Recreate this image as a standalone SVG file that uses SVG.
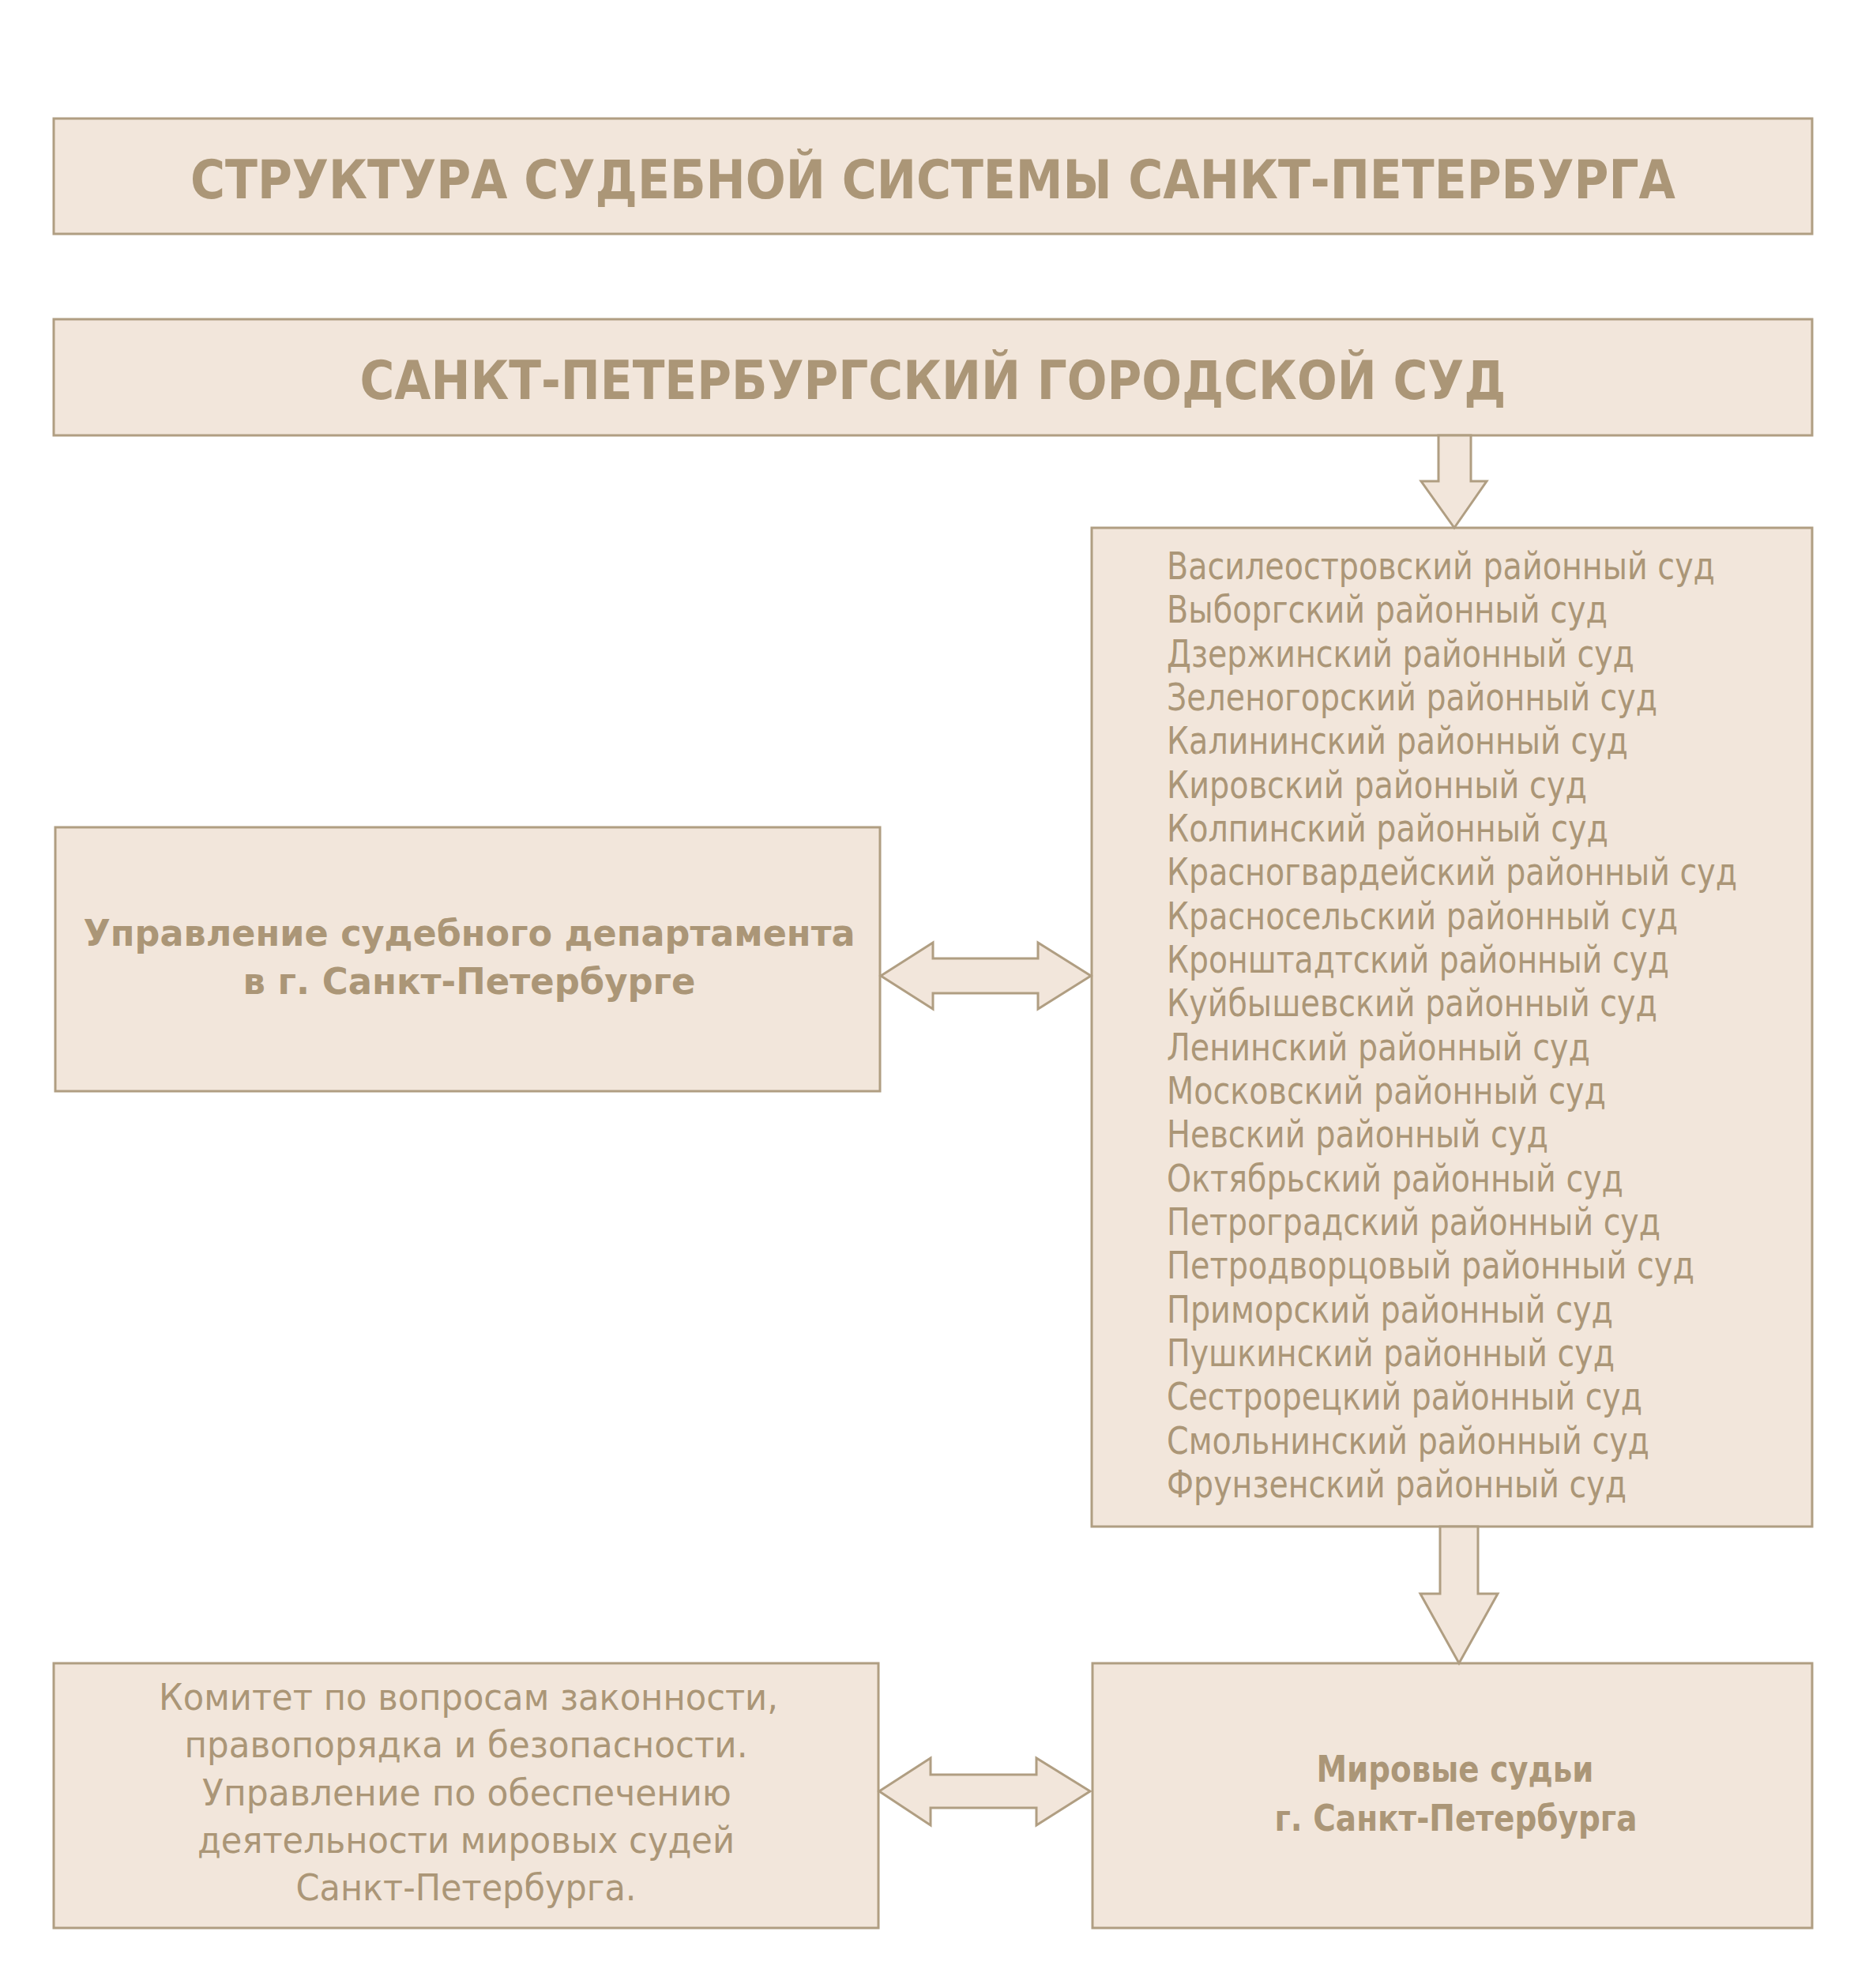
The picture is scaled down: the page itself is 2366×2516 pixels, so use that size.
<svg xmlns="http://www.w3.org/2000/svg" width="2366" height="2516" viewBox="0 0 2366 2516">
<style>
.box{fill:#f2e6db;stroke:#b09e82;stroke-width:3}
.arr{fill:#f2e6db;stroke:#b09e82;stroke-width:3;stroke-linejoin:miter}
text{font-family:"DejaVu Sans","Liberation Sans",sans-serif;fill:#ab9677}
.h{font-size:68px;font-weight:bold;text-anchor:middle}
.b{font-size:47px;font-weight:bold;text-anchor:middle}
.r{font-size:46px;text-anchor:middle}
.l{font-size:48px}
</style>
<rect width="2366" height="2516" fill="#ffffff"/>
<g id="title">
<rect class="box" x="68" y="150" width="2226" height="146"/>
<text class="h" x="1181" y="251" textLength="1880" lengthAdjust="spacingAndGlyphs">СТРУКТУРА СУДЕБНОЙ СИСТЕМЫ САНКТ-ПЕТЕРБУРГА</text>
</g>
<g id="city-court">
<rect class="box" x="68" y="404" width="2226" height="147"/>
<text class="h" x="1181" y="505" textLength="1451" lengthAdjust="spacingAndGlyphs">САНКТ-ПЕТЕРБУРГСКИЙ ГОРОДСКОЙ СУД</text>
</g>
<g id="district-courts">
<rect class="box" x="1382" y="668" width="912" height="1264"/>
<text class="l" x="1477" y="733" textLength="694" lengthAdjust="spacingAndGlyphs">Василеостровский районный суд</text>
<text class="l" x="1477" y="788.3" textLength="558" lengthAdjust="spacingAndGlyphs">Выборгский районный суд</text>
<text class="l" x="1477" y="843.7" textLength="592" lengthAdjust="spacingAndGlyphs">Дзержинский районный суд</text>
<text class="l" x="1477" y="899" textLength="621" lengthAdjust="spacingAndGlyphs">Зеленогорский районный суд</text>
<text class="l" x="1477" y="954.3" textLength="584" lengthAdjust="spacingAndGlyphs">Калининский районный суд</text>
<text class="l" x="1477" y="1009.7" textLength="532" lengthAdjust="spacingAndGlyphs">Кировский районный суд</text>
<text class="l" x="1477" y="1065" textLength="559" lengthAdjust="spacingAndGlyphs">Колпинский районный суд</text>
<text class="l" x="1477" y="1120.3" textLength="722" lengthAdjust="spacingAndGlyphs">Красногвардейский районный суд</text>
<text class="l" x="1477" y="1175.7" textLength="647" lengthAdjust="spacingAndGlyphs">Красносельский районный суд</text>
<text class="l" x="1477" y="1231" textLength="636" lengthAdjust="spacingAndGlyphs">Кронштадтский районный суд</text>
<text class="l" x="1477" y="1286.3" textLength="621" lengthAdjust="spacingAndGlyphs">Куйбышевский районный суд</text>
<text class="l" x="1477" y="1341.7" textLength="536" lengthAdjust="spacingAndGlyphs">Ленинский районный суд</text>
<text class="l" x="1477" y="1397" textLength="556" lengthAdjust="spacingAndGlyphs">Московский районный суд</text>
<text class="l" x="1477" y="1452.3" textLength="483" lengthAdjust="spacingAndGlyphs">Невский районный суд</text>
<text class="l" x="1477" y="1507.7" textLength="578" lengthAdjust="spacingAndGlyphs">Октябрьский районный суд</text>
<text class="l" x="1477" y="1563" textLength="625" lengthAdjust="spacingAndGlyphs">Петроградский районный суд</text>
<text class="l" x="1477" y="1618.3" textLength="668" lengthAdjust="spacingAndGlyphs">Петродворцовый районный суд</text>
<text class="l" x="1477" y="1673.7" textLength="565" lengthAdjust="spacingAndGlyphs">Приморский районный суд</text>
<text class="l" x="1477" y="1729" textLength="567" lengthAdjust="spacingAndGlyphs">Пушкинский районный суд</text>
<text class="l" x="1477" y="1784.3" textLength="602" lengthAdjust="spacingAndGlyphs">Сестрорецкий районный суд</text>
<text class="l" x="1477" y="1839.7" textLength="611" lengthAdjust="spacingAndGlyphs">Смольнинский районный суд</text>
<text class="l" x="1477" y="1895" textLength="582" lengthAdjust="spacingAndGlyphs">Фрунзенский районный суд</text>
</g>
<g id="judicial-department">
<rect class="box" x="70" y="1047" width="1044" height="334"/>
<text class="b" x="594" y="1197" textLength="977" lengthAdjust="spacingAndGlyphs">Управление судебного департамента</text>
<text class="b" x="594" y="1258" textLength="573" lengthAdjust="spacingAndGlyphs">в г. Санкт-Петербурге</text>
</g>
<g id="committee">
<rect class="box" x="68" y="2105" width="1044" height="335"/>
<text class="r" x="593" y="2164" textLength="784" lengthAdjust="spacingAndGlyphs">Комитет по вопросам законности,</text>
<text class="r" x="590" y="2224" textLength="713" lengthAdjust="spacingAndGlyphs">правопорядка и безопасности.</text>
<text class="r" x="591" y="2285" textLength="670" lengthAdjust="spacingAndGlyphs">Управление по обеспечению</text>
<text class="r" x="590" y="2345" textLength="680" lengthAdjust="spacingAndGlyphs">деятельности мировых судей</text>
<text class="r" x="590" y="2405" textLength="431" lengthAdjust="spacingAndGlyphs">Санкт-Петербурга.</text>
</g>
<g id="magistrates">
<rect class="box" x="1383" y="2105" width="911" height="335"/>
<text class="b" x="1842" y="2255" textLength="351" lengthAdjust="spacingAndGlyphs">Мировые судьи</text>
<text class="b" x="1843" y="2317" textLength="459" lengthAdjust="spacingAndGlyphs">г. Санкт-Петербурга</text>
</g>
<g id="connectors">
<polygon class="arr" points="1821,551 1862,551 1862,609 1882,609 1841,668 1799,609 1821,609"/>
<polygon class="arr" points="1823,1932 1871,1932 1871,2017 1896,2017 1847,2105 1798,2017 1823,2017"/>
<polygon class="arr" points="1115,1235 1181,1193 1181,1213 1314,1213 1314,1193 1381,1235 1314,1277 1314,1257 1181,1257 1181,1277"/>
<polygon class="arr" points="1113,2267 1178,2225 1178,2246 1312,2246 1312,2225 1380,2267 1312,2310 1312,2288 1178,2288 1178,2310"/>
</g>
</svg>
